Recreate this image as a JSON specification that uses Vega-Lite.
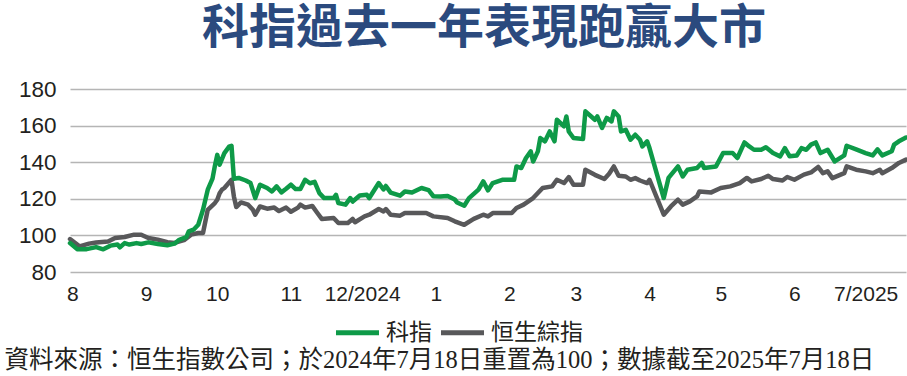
{
  "$schema": "https://vega.github.io/schema/vega-lite/v6.json",
  "background": "white",
  "padding": {"left": 4, "top": 5, "right": 0, "bottom": 0},
  "title": {
    "text": "資料來源：恒生指數公司；於2024年7月18日重置為100；數據截至2025年7月18日",
    "orient": "bottom", "anchor": "start", "frame": "bounds", "dx": -14,
    "font": "Liberation Serif, Noto Sans CJK TC", "fontSize": 24.5, "fontWeight": "normal",
    "color": "#231f20", "offset": 4
  },
  "datasets": {
    "idx": [
      {"date": "2024-07-31T00:00", "series": "恒生綜指", "value": 98},
      {"date": "2024-08-04T00:00", "series": "恒生綜指", "value": 94},
      {"date": "2024-08-08T00:00", "series": "恒生綜指", "value": 95.5},
      {"date": "2024-08-11T00:00", "series": "恒生綜指", "value": 96.1},
      {"date": "2024-08-16T00:00", "series": "恒生綜指", "value": 96.7},
      {"date": "2024-08-19T00:00", "series": "恒生綜指", "value": 98.6},
      {"date": "2024-08-23T00:00", "series": "恒生綜指", "value": 99.1},
      {"date": "2024-08-27T00:00", "series": "恒生綜指", "value": 100.4},
      {"date": "2024-08-30T00:00", "series": "恒生綜指", "value": 100.4},
      {"date": "2024-09-02T00:00", "series": "恒生綜指", "value": 98.6},
      {"date": "2024-09-06T00:00", "series": "恒生綜指", "value": 97.7},
      {"date": "2024-09-10T00:00", "series": "恒生綜指", "value": 96.3},
      {"date": "2024-09-13T00:00", "series": "恒生綜指", "value": 95.9},
      {"date": "2024-09-17T00:00", "series": "恒生綜指", "value": 97.4},
      {"date": "2024-09-20T00:00", "series": "恒生綜指", "value": 100.4},
      {"date": "2024-09-23T00:00", "series": "恒生綜指", "value": 101.3},
      {"date": "2024-09-25T00:00", "series": "恒生綜指", "value": 101.3},
      {"date": "2024-09-27T00:00", "series": "恒生綜指", "value": 114},
      {"date": "2024-09-30T00:00", "series": "恒生綜指", "value": 117.7},
      {"date": "2024-10-01T00:00", "series": "恒生綜指", "value": 119.5},
      {"date": "2024-10-02T00:00", "series": "恒生綜指", "value": 123},
      {"date": "2024-10-03T00:00", "series": "恒生綜指", "value": 125},
      {"date": "2024-10-04T00:00", "series": "恒生綜指", "value": 125.9},
      {"date": "2024-10-07T00:00", "series": "恒生綜指", "value": 130.4},
      {"date": "2024-10-08T00:00", "series": "恒生綜指", "value": 121.3},
      {"date": "2024-10-09T00:00", "series": "恒生綜指", "value": 115.5},
      {"date": "2024-10-11T00:00", "series": "恒生綜指", "value": 118},
      {"date": "2024-10-14T00:00", "series": "恒生綜指", "value": 116.8},
      {"date": "2024-10-16T00:00", "series": "恒生綜指", "value": 114},
      {"date": "2024-10-17T00:00", "series": "恒生綜指", "value": 111.3},
      {"date": "2024-10-19T00:00", "series": "恒生綜指", "value": 115.8},
      {"date": "2024-10-22T00:00", "series": "恒生綜指", "value": 114.6},
      {"date": "2024-10-25T00:00", "series": "恒生綜指", "value": 115.2},
      {"date": "2024-10-27T00:00", "series": "恒生綜指", "value": 113.3},
      {"date": "2024-10-30T00:00", "series": "恒生綜指", "value": 115.2},
      {"date": "2024-11-01T00:00", "series": "恒生綜指", "value": 112.9},
      {"date": "2024-11-04T00:00", "series": "恒生綜指", "value": 115.2},
      {"date": "2024-11-05T00:00", "series": "恒生綜指", "value": 116.8},
      {"date": "2024-11-07T00:00", "series": "恒生綜指", "value": 115.2},
      {"date": "2024-11-10T00:00", "series": "恒生綜指", "value": 116.1},
      {"date": "2024-11-12T00:00", "series": "恒生綜指", "value": 112.5},
      {"date": "2024-11-14T00:00", "series": "恒生綜指", "value": 109},
      {"date": "2024-11-19T00:00", "series": "恒生綜指", "value": 109.5},
      {"date": "2024-11-21T00:00", "series": "恒生綜指", "value": 106.8},
      {"date": "2024-11-25T00:00", "series": "恒生綜指", "value": 106.8},
      {"date": "2024-11-27T00:00", "series": "恒生綜指", "value": 109},
      {"date": "2024-11-28T00:00", "series": "恒生綜指", "value": 107.2},
      {"date": "2024-12-02T00:00", "series": "恒生綜指", "value": 110.4},
      {"date": "2024-12-04T00:00", "series": "恒生綜指", "value": 111.3},
      {"date": "2024-12-08T00:00", "series": "恒生綜指", "value": 114.4},
      {"date": "2024-12-10T00:00", "series": "恒生綜指", "value": 113.1},
      {"date": "2024-12-11T00:00", "series": "恒生綜指", "value": 114.4},
      {"date": "2024-12-13T00:00", "series": "恒生綜指", "value": 111.3},
      {"date": "2024-12-17T00:00", "series": "恒生綜指", "value": 110.8},
      {"date": "2024-12-19T00:00", "series": "恒生綜指", "value": 112.2},
      {"date": "2024-12-28T00:00", "series": "恒生綜指", "value": 112.2},
      {"date": "2024-12-31T00:00", "series": "恒生綜指", "value": 110.4},
      {"date": "2025-01-06T00:00", "series": "恒生綜指", "value": 109.5},
      {"date": "2025-01-09T00:00", "series": "恒生綜指", "value": 107.7},
      {"date": "2025-01-13T00:00", "series": "恒生綜指", "value": 105.8},
      {"date": "2025-01-17T00:00", "series": "恒生綜指", "value": 109},
      {"date": "2025-01-21T00:00", "series": "恒生綜指", "value": 111.3},
      {"date": "2025-01-23T00:00", "series": "恒生綜指", "value": 110.4},
      {"date": "2025-01-25T00:00", "series": "恒生綜指", "value": 112.2},
      {"date": "2025-02-02T00:00", "series": "恒生綜指", "value": 112.2},
      {"date": "2025-02-04T00:00", "series": "恒生綜指", "value": 115},
      {"date": "2025-02-07T00:00", "series": "恒生綜指", "value": 116.8},
      {"date": "2025-02-11T00:00", "series": "恒生綜指", "value": 120.4},
      {"date": "2025-02-15T00:00", "series": "恒生綜指", "value": 125.9},
      {"date": "2025-02-19T00:00", "series": "恒生綜指", "value": 126.8},
      {"date": "2025-02-21T00:00", "series": "恒生綜指", "value": 130.4},
      {"date": "2025-02-24T00:00", "series": "恒生綜指", "value": 128.6},
      {"date": "2025-02-26T00:00", "series": "恒生綜指", "value": 131.9},
      {"date": "2025-02-28T00:00", "series": "恒生綜指", "value": 127.7},
      {"date": "2025-03-04T00:00", "series": "恒生綜指", "value": 127.7},
      {"date": "2025-03-05T00:00", "series": "恒生綜指", "value": 135.9},
      {"date": "2025-03-09T00:00", "series": "恒生綜指", "value": 133.1},
      {"date": "2025-03-13T00:00", "series": "恒生綜指", "value": 130.8},
      {"date": "2025-03-15T00:00", "series": "恒生綜指", "value": 133.7},
      {"date": "2025-03-17T00:00", "series": "恒生綜指", "value": 137.7},
      {"date": "2025-03-19T00:00", "series": "恒生綜指", "value": 132.6},
      {"date": "2025-03-22T00:00", "series": "恒生綜指", "value": 132.2},
      {"date": "2025-03-24T00:00", "series": "恒生綜指", "value": 130.4},
      {"date": "2025-03-26T00:00", "series": "恒生綜指", "value": 131.3},
      {"date": "2025-03-28T00:00", "series": "恒生綜指", "value": 130},
      {"date": "2025-03-31T00:00", "series": "恒生綜指", "value": 128.6},
      {"date": "2025-04-01T00:00", "series": "恒生綜指", "value": 130.4},
      {"date": "2025-04-07T00:00", "series": "恒生綜指", "value": 111.3},
      {"date": "2025-04-10T00:00", "series": "恒生綜指", "value": 115.8},
      {"date": "2025-04-13T00:00", "series": "恒生綜指", "value": 119.5},
      {"date": "2025-04-15T00:00", "series": "恒生綜指", "value": 116.8},
      {"date": "2025-04-18T00:00", "series": "恒生綜指", "value": 118.6},
      {"date": "2025-04-21T00:00", "series": "恒生綜指", "value": 121.3},
      {"date": "2025-04-22T00:00", "series": "恒生綜指", "value": 124},
      {"date": "2025-04-27T00:00", "series": "恒生綜指", "value": 123.5},
      {"date": "2025-05-01T00:00", "series": "恒生綜指", "value": 125.9},
      {"date": "2025-05-05T00:00", "series": "恒生綜指", "value": 126.8},
      {"date": "2025-05-09T00:00", "series": "恒生綜指", "value": 128.6},
      {"date": "2025-05-12T00:00", "series": "恒生綜指", "value": 131.4},
      {"date": "2025-05-14T00:00", "series": "恒生綜指", "value": 129.5},
      {"date": "2025-05-18T00:00", "series": "恒生綜指", "value": 130.8},
      {"date": "2025-05-21T00:00", "series": "恒生綜指", "value": 132.6},
      {"date": "2025-05-23T00:00", "series": "恒生綜指", "value": 130.8},
      {"date": "2025-05-27T00:00", "series": "恒生綜指", "value": 130},
      {"date": "2025-05-29T00:00", "series": "恒生綜指", "value": 131.9},
      {"date": "2025-06-01T00:00", "series": "恒生綜指", "value": 130.4},
      {"date": "2025-06-05T00:00", "series": "恒生綜指", "value": 133.2},
      {"date": "2025-06-08T00:00", "series": "恒生綜指", "value": 134.4},
      {"date": "2025-06-11T00:00", "series": "恒生綜指", "value": 137.4},
      {"date": "2025-06-13T00:00", "series": "恒生綜指", "value": 134},
      {"date": "2025-06-15T00:00", "series": "恒生綜指", "value": 135},
      {"date": "2025-06-17T00:00", "series": "恒生綜指", "value": 131.3},
      {"date": "2025-06-22T00:00", "series": "恒生綜指", "value": 134},
      {"date": "2025-06-23T00:00", "series": "恒生綜指", "value": 137.7},
      {"date": "2025-06-27T00:00", "series": "恒生綜指", "value": 135.9},
      {"date": "2025-07-01T00:00", "series": "恒生綜指", "value": 135},
      {"date": "2025-07-04T00:00", "series": "恒生綜指", "value": 134},
      {"date": "2025-07-07T00:00", "series": "恒生綜指", "value": 135.9},
      {"date": "2025-07-08T00:00", "series": "恒生綜指", "value": 134},
      {"date": "2025-07-12T00:00", "series": "恒生綜指", "value": 136.8},
      {"date": "2025-07-15T00:00", "series": "恒生綜指", "value": 139.6},
      {"date": "2025-07-18T00:00", "series": "恒生綜指", "value": 141.4},

      {"date": "2024-07-31T00:00", "series": "科指", "value": 95.8},
      {"date": "2024-08-03T00:00", "series": "科指", "value": 92.5},
      {"date": "2024-08-07T00:00", "series": "科指", "value": 92.5},
      {"date": "2024-08-11T00:00", "series": "科指", "value": 93.6},
      {"date": "2024-08-14T00:00", "series": "科指", "value": 92.4},
      {"date": "2024-08-17T00:00", "series": "科指", "value": 94.4},
      {"date": "2024-08-20T00:00", "series": "科指", "value": 95},
      {"date": "2024-08-21T00:00", "series": "科指", "value": 93.5},
      {"date": "2024-08-23T00:00", "series": "科指", "value": 95.8},
      {"date": "2024-08-25T00:00", "series": "科指", "value": 95},
      {"date": "2024-08-28T00:00", "series": "科指", "value": 95.8},
      {"date": "2024-08-30T00:00", "series": "科指", "value": 95.3},
      {"date": "2024-09-02T00:00", "series": "科指", "value": 96.2},
      {"date": "2024-09-06T00:00", "series": "科指", "value": 95.3},
      {"date": "2024-09-10T00:00", "series": "科指", "value": 94.6},
      {"date": "2024-09-13T00:00", "series": "科指", "value": 95.5},
      {"date": "2024-09-15T00:00", "series": "科指", "value": 97.6},
      {"date": "2024-09-18T00:00", "series": "科指", "value": 99.1},
      {"date": "2024-09-19T00:00", "series": "科指", "value": 102.2},
      {"date": "2024-09-21T00:00", "series": "科指", "value": 103.1},
      {"date": "2024-09-23T00:00", "series": "科指", "value": 105.8},
      {"date": "2024-09-25T00:00", "series": "科指", "value": 114},
      {"date": "2024-09-27T00:00", "series": "科指", "value": 125},
      {"date": "2024-09-29T00:00", "series": "科指", "value": 131},
      {"date": "2024-09-30T00:00", "series": "科指", "value": 138},
      {"date": "2024-10-01T00:00", "series": "科指", "value": 144},
      {"date": "2024-10-02T00:00", "series": "科指", "value": 138.6},
      {"date": "2024-10-04T00:00", "series": "科指", "value": 145},
      {"date": "2024-10-06T00:00", "series": "科指", "value": 148.5},
      {"date": "2024-10-07T00:00", "series": "科指", "value": 149},
      {"date": "2024-10-08T00:00", "series": "科指", "value": 131},
      {"date": "2024-10-10T00:00", "series": "科指", "value": 131.4},
      {"date": "2024-10-13T00:00", "series": "科指", "value": 130},
      {"date": "2024-10-15T00:00", "series": "科指", "value": 128.6},
      {"date": "2024-10-17T00:00", "series": "科指", "value": 120.4},
      {"date": "2024-10-19T00:00", "series": "科指", "value": 127.7},
      {"date": "2024-10-22T00:00", "series": "科指", "value": 125.9},
      {"date": "2024-10-24T00:00", "series": "科指", "value": 124},
      {"date": "2024-10-26T00:00", "series": "科指", "value": 126.8},
      {"date": "2024-10-28T00:00", "series": "科指", "value": 123.5},
      {"date": "2024-10-30T00:00", "series": "科指", "value": 125.5},
      {"date": "2024-11-01T00:00", "series": "科指", "value": 127.7},
      {"date": "2024-11-03T00:00", "series": "科指", "value": 125.3},
      {"date": "2024-11-05T00:00", "series": "科指", "value": 125.3},
      {"date": "2024-11-07T00:00", "series": "科指", "value": 130.4},
      {"date": "2024-11-09T00:00", "series": "科指", "value": 128.5},
      {"date": "2024-11-11T00:00", "series": "科指", "value": 129.3},
      {"date": "2024-11-13T00:00", "series": "科指", "value": 123.1},
      {"date": "2024-11-15T00:00", "series": "科指", "value": 120.4},
      {"date": "2024-11-19T00:00", "series": "科指", "value": 120.4},
      {"date": "2024-11-20T00:00", "series": "科指", "value": 122.2},
      {"date": "2024-11-21T00:00", "series": "科指", "value": 117.7},
      {"date": "2024-11-24T00:00", "series": "科指", "value": 116.8},
      {"date": "2024-11-26T00:00", "series": "科指", "value": 120.4},
      {"date": "2024-11-27T00:00", "series": "科指", "value": 118.5},
      {"date": "2024-11-30T00:00", "series": "科指", "value": 121.8},
      {"date": "2024-12-03T00:00", "series": "科指", "value": 122.2},
      {"date": "2024-12-04T00:00", "series": "科指", "value": 120.4},
      {"date": "2024-12-08T00:00", "series": "科指", "value": 128.6},
      {"date": "2024-12-10T00:00", "series": "科指", "value": 125.1},
      {"date": "2024-12-11T00:00", "series": "科指", "value": 127},
      {"date": "2024-12-13T00:00", "series": "科指", "value": 123.4},
      {"date": "2024-12-17T00:00", "series": "科指", "value": 121.7},
      {"date": "2024-12-19T00:00", "series": "科指", "value": 124},
      {"date": "2024-12-22T00:00", "series": "科指", "value": 123.4},
      {"date": "2024-12-26T00:00", "series": "科指", "value": 125.9},
      {"date": "2024-12-29T00:00", "series": "科指", "value": 124.7},
      {"date": "2024-12-31T00:00", "series": "科指", "value": 121.4},
      {"date": "2025-01-03T00:00", "series": "科指", "value": 121.2},
      {"date": "2025-01-06T00:00", "series": "科指", "value": 121.5},
      {"date": "2025-01-09T00:00", "series": "科指", "value": 119.6},
      {"date": "2025-01-10T00:00", "series": "科指", "value": 118},
      {"date": "2025-01-13T00:00", "series": "科指", "value": 116.2},
      {"date": "2025-01-15T00:00", "series": "科指", "value": 120.4},
      {"date": "2025-01-19T00:00", "series": "科指", "value": 125},
      {"date": "2025-01-21T00:00", "series": "科指", "value": 129.5},
      {"date": "2025-01-23T00:00", "series": "科指", "value": 124.6},
      {"date": "2025-01-25T00:00", "series": "科指", "value": 128.6},
      {"date": "2025-01-29T00:00", "series": "科指", "value": 130.4},
      {"date": "2025-02-03T00:00", "series": "科指", "value": 130.4},
      {"date": "2025-02-04T00:00", "series": "科指", "value": 137.7},
      {"date": "2025-02-06T00:00", "series": "科指", "value": 136.8},
      {"date": "2025-02-08T00:00", "series": "科指", "value": 142.3},
      {"date": "2025-02-10T00:00", "series": "科指", "value": 145.9},
      {"date": "2025-02-11T00:00", "series": "科指", "value": 140.4},
      {"date": "2025-02-13T00:00", "series": "科指", "value": 145.9},
      {"date": "2025-02-14T00:00", "series": "科指", "value": 153.2},
      {"date": "2025-02-16T00:00", "series": "科指", "value": 151.4},
      {"date": "2025-02-18T00:00", "series": "科指", "value": 156.8},
      {"date": "2025-02-20T00:00", "series": "科指", "value": 151.4},
      {"date": "2025-02-21T00:00", "series": "科指", "value": 163.2},
      {"date": "2025-02-24T00:00", "series": "科指", "value": 159.6},
      {"date": "2025-02-25T00:00", "series": "科指", "value": 165},
      {"date": "2025-02-26T00:00", "series": "科指", "value": 156.8},
      {"date": "2025-02-28T00:00", "series": "科指", "value": 153.2},
      {"date": "2025-03-04T00:00", "series": "科指", "value": 152.7},
      {"date": "2025-03-05T00:00", "series": "科指", "value": 167.8},
      {"date": "2025-03-09T00:00", "series": "科指", "value": 163.2},
      {"date": "2025-03-10T00:00", "series": "科指", "value": 165},
      {"date": "2025-03-12T00:00", "series": "科指", "value": 158.7},
      {"date": "2025-03-14T00:00", "series": "科指", "value": 164.2},
      {"date": "2025-03-16T00:00", "series": "科指", "value": 162.3},
      {"date": "2025-03-17T00:00", "series": "科指", "value": 167.8},
      {"date": "2025-03-19T00:00", "series": "科指", "value": 165},
      {"date": "2025-03-20T00:00", "series": "科指", "value": 156.8},
      {"date": "2025-03-22T00:00", "series": "科指", "value": 157.7},
      {"date": "2025-03-24T00:00", "series": "科指", "value": 152.3},
      {"date": "2025-03-26T00:00", "series": "科指", "value": 155},
      {"date": "2025-03-28T00:00", "series": "科指", "value": 152.3},
      {"date": "2025-03-29T00:00", "series": "科指", "value": 148.6},
      {"date": "2025-03-31T00:00", "series": "科指", "value": 151.4},
      {"date": "2025-04-01T00:00", "series": "科指", "value": 147.7},
      {"date": "2025-04-07T00:00", "series": "科指", "value": 120.4},
      {"date": "2025-04-09T00:00", "series": "科指", "value": 131.4},
      {"date": "2025-04-13T00:00", "series": "科指", "value": 137.7},
      {"date": "2025-04-15T00:00", "series": "科指", "value": 132.2},
      {"date": "2025-04-17T00:00", "series": "科指", "value": 135.9},
      {"date": "2025-04-21T00:00", "series": "科指", "value": 136.8},
      {"date": "2025-04-23T00:00", "series": "科指", "value": 139.6},
      {"date": "2025-04-24T00:00", "series": "科指", "value": 136.8},
      {"date": "2025-04-29T00:00", "series": "科指", "value": 137.7},
      {"date": "2025-05-02T00:00", "series": "科指", "value": 145},
      {"date": "2025-05-06T00:00", "series": "科指", "value": 145},
      {"date": "2025-05-08T00:00", "series": "科指", "value": 142.3},
      {"date": "2025-05-11T00:00", "series": "科指", "value": 150.8},
      {"date": "2025-05-13T00:00", "series": "科指", "value": 148.6},
      {"date": "2025-05-15T00:00", "series": "科指", "value": 146.8},
      {"date": "2025-05-18T00:00", "series": "科指", "value": 146.8},
      {"date": "2025-05-20T00:00", "series": "科指", "value": 148.2},
      {"date": "2025-05-23T00:00", "series": "科指", "value": 145},
      {"date": "2025-05-26T00:00", "series": "科指", "value": 143.2},
      {"date": "2025-05-28T00:00", "series": "科指", "value": 147.7},
      {"date": "2025-05-30T00:00", "series": "科指", "value": 143.2},
      {"date": "2025-06-02T00:00", "series": "科指", "value": 143.7},
      {"date": "2025-06-04T00:00", "series": "科指", "value": 147.7},
      {"date": "2025-06-06T00:00", "series": "科指", "value": 146.8},
      {"date": "2025-06-08T00:00", "series": "科指", "value": 149.6},
      {"date": "2025-06-10T00:00", "series": "科指", "value": 150.8},
      {"date": "2025-06-12T00:00", "series": "科指", "value": 145},
      {"date": "2025-06-15T00:00", "series": "科指", "value": 146.8},
      {"date": "2025-06-18T00:00", "series": "科指", "value": 140.4},
      {"date": "2025-06-22T00:00", "series": "科指", "value": 143.7},
      {"date": "2025-06-23T00:00", "series": "科指", "value": 149},
      {"date": "2025-06-27T00:00", "series": "科指", "value": 147},
      {"date": "2025-07-01T00:00", "series": "科指", "value": 145},
      {"date": "2025-07-04T00:00", "series": "科指", "value": 143.7},
      {"date": "2025-07-06T00:00", "series": "科指", "value": 147},
      {"date": "2025-07-08T00:00", "series": "科指", "value": 143.7},
      {"date": "2025-07-12T00:00", "series": "科指", "value": 146},
      {"date": "2025-07-13T00:00", "series": "科指", "value": 149.6},
      {"date": "2025-07-15T00:00", "series": "科指", "value": 151.4},
      {"date": "2025-07-18T00:00", "series": "科指", "value": 153.5}
    ]
  },
  "vconcat": [
    {
      "title": {
        "text": "科指過去一年表現跑贏大市",
        "anchor": "middle", "frame": "group", "dx": -4,
        "font": "Noto Sans CJK TC", "fontSize": 47, "fontWeight": "bold",
        "color": "#2b4a7e", "offset": 25
      },
      "width": 836,
      "height": 183,
      "data": {"name": "idx"},
      "mark": {"type": "line", "strokeWidth": 4.5, "strokeJoin": "round", "strokeCap": "round"},
      "encoding": {
        "x": {
          "field": "date", "type": "temporal",
          "scale": {"domain": [{"year": 2024, "month": 7, "date": 31}, {"year": 2025, "month": 7, "date": 18}]},
          "axis": {
            "title": null, "grid": false, "domain": false, "ticks": false,
            "values": [
              {"year": 2024, "month": 8, "date": 1}, {"year": 2024, "month": 9, "date": 1},
              {"year": 2024, "month": 10, "date": 1}, {"year": 2024, "month": 11, "date": 1},
              {"year": 2024, "month": 12, "date": 1}, {"year": 2025, "month": 1, "date": 1},
              {"year": 2025, "month": 2, "date": 1}, {"year": 2025, "month": 3, "date": 1},
              {"year": 2025, "month": 4, "date": 1}, {"year": 2025, "month": 5, "date": 1},
              {"year": 2025, "month": 6, "date": 1}, {"year": 2025, "month": 7, "date": 1}
            ],
            "labelExpr": "month(datum.value) == 11 ? '12/2024' : (month(datum.value) == 6 ? '7/2025' : '' + (month(datum.value) + 1))",
            "labelFont": "Liberation Sans", "labelFontSize": 21, "labelColor": "#231f20",
            "labelPadding": 11, "labelOverlap": false, "labelFlush": false
          }
        },
        "y": {
          "field": "value", "type": "quantitative",
          "scale": {"domain": [80, 180], "nice": false, "zero": false},
          "axis": {
            "title": null, "values": [80, 100, 120, 140, 160, 180],
            "domain": false, "ticks": false, "grid": true,
            "gridColor": "#b5b5b5", "gridWidth": 1.5,
            "labelFont": "Liberation Sans", "labelFontSize": 22.5, "labelColor": "#231f20",
            "labelPadding": 14
          }
        },
        "color": {
          "field": "series", "type": "nominal",
          "scale": {"domain": ["科指", "恒生綜指"], "range": ["#0e9a48", "#58585a"]},
          "legend": {
            "title": null, "orient": "none", "legendX": 263, "legendY": 219, "direction": "horizontal",
            "padding": 0,
            "symbolType": "stroke", "symbolSize": 1850, "symbolStrokeWidth": 5,
            "labelFont": "Noto Sans CJK TC", "labelFontSize": 23, "labelColor": "#231f20",
            "labelOffset": 4, "columnPadding": -2
          }
        }
      }
    }
  ],
  "config": {
    "view": {"stroke": null}
  }
}
